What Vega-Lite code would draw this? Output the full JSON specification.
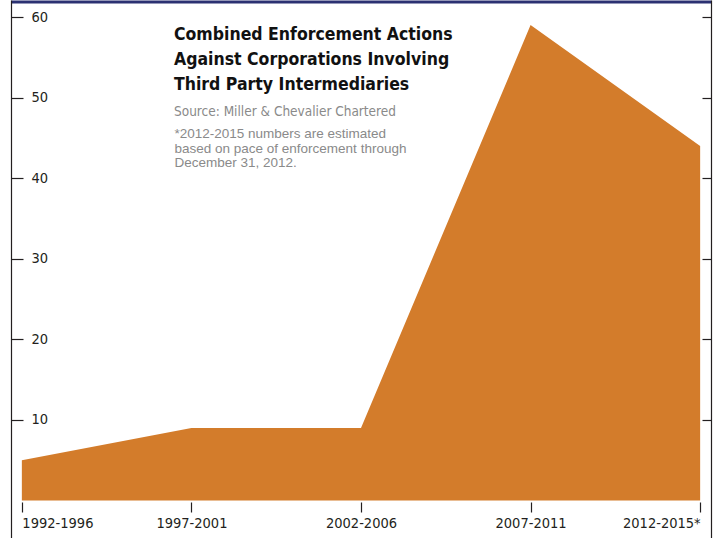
{
  "$schema": "https://vega.github.io/schema/vega-lite/v6.json",
  "autosize": {"type": "none"},
  "width": 700,
  "height": 538,
  "padding": {"left": 11, "top": 0, "right": 9, "bottom": 0},
  "background": "white",
  "config": {"view": {"stroke": null}},
  "title": {
    "text": ["Combined Enforcement Actions", "Against Corporations Involving", "Third Party Intermediaries"],
    "subtitle": "Source: Miller & Chevalier Chartered",
    "anchor": "start",
    "frame": "group",
    "orient": "top",
    "offset": -118,
    "dx": 163,
    "font": "DejaVu Sans Condensed, sans-serif",
    "fontSize": 17.5,
    "fontWeight": "bold",
    "lineHeight": 25,
    "color": "#111111",
    "subtitleFont": "DejaVu Sans Condensed, sans-serif",
    "subtitleFontSize": 13.5,
    "subtitleColor": "#8a8a8a",
    "subtitlePadding": 11
  },
  "data": {
    "values": [
      {"period": "1992-1996", "actions": 5},
      {"period": "1997-2001", "actions": 9},
      {"period": "2002-2006", "actions": 9},
      {"period": "2007-2011", "actions": 59},
      {"period": "2012-2015*", "actions": 44}
    ]
  },
  "resolve": {"axis": {"x": "independent", "y": "independent"}},
  "layer": [
    {
      "mark": {"type": "area", "color": "#D37C2B", "interpolate": "linear"},
      "encoding": {
        "x": {
          "field": "period",
          "type": "ordinal",
          "sort": null,
          "scale": {"type": "point", "padding": 0.064},
          "axis": {
            "orient": "bottom",
            "offset": -36,
            "title": null,
            "domain": false,
            "tickSize": 10,
            "tickColor": "#231f20",
            "tickWidth": 1.2,
            "labelAngle": 0,
            "labelAlign": {"expr": "datum.index == 0 ? 'left' : datum.index == 1 ? 'right' : 'center'"},
            "labelPadding": 4,
            "labelFont": "DejaVu Sans Condensed, sans-serif",
            "labelFontSize": 14.5,
            "labelColor": "#231f20"
          }
        },
        "y": {
          "field": "actions",
          "type": "quantitative",
          "scale": {"domain": [-4.65, 62.11], "nice": false, "zero": false},
          "axis": {
            "orient": "right",
            "offset": -700,
            "values": [10, 20, 30, 40, 50, 60],
            "title": null,
            "grid": false,
            "domainColor": "#231f20",
            "domainWidth": 1.2,
            "tickColor": "#231f20",
            "tickWidth": 1.2,
            "tickSize": 12,
            "labelPadding": 8,
            "labelFont": "DejaVu Sans Condensed, sans-serif",
            "labelFontSize": 14.5,
            "labelColor": "#231f20"
          }
        },
        "y2": {"datum": 0}
      }
    },
    {
      "mark": {"type": "line", "opacity": 0},
      "encoding": {
        "x": {
          "field": "period",
          "type": "ordinal",
          "sort": null,
          "scale": {"type": "point", "padding": 0.064},
          "axis": {
            "orient": "top",
            "offset": -1.5,
            "domainColor": "#2B3172",
            "domainWidth": 3,
            "ticks": false,
            "labels": false,
            "title": ["*2012-2015 numbers are estimated", "based on pace of enforcement through", "December 31, 2012."],
            "titleX": 163,
            "titleY": 136,
            "titleAlign": "left",
            "titleAnchor": "start",
            "titleBaseline": "alphabetic",
            "titleFont": "Liberation Sans, Arial, sans-serif",
            "titleFontSize": 13.5,
            "titleFontWeight": "normal",
            "titleColor": "#8a8a8a",
            "titleLineHeight": 14.5
          }
        },
        "y": {
          "field": "actions",
          "type": "quantitative",
          "axis": {
            "orient": "left",
            "offset": -700,
            "values": [10, 20, 30, 40, 50, 60],
            "title": null,
            "grid": false,
            "labels": false,
            "domainColor": "#231f20",
            "domainWidth": 1.2,
            "tickColor": "#231f20",
            "tickWidth": 1.2,
            "tickSize": 9
          }
        }
      }
    }
  ]
}
